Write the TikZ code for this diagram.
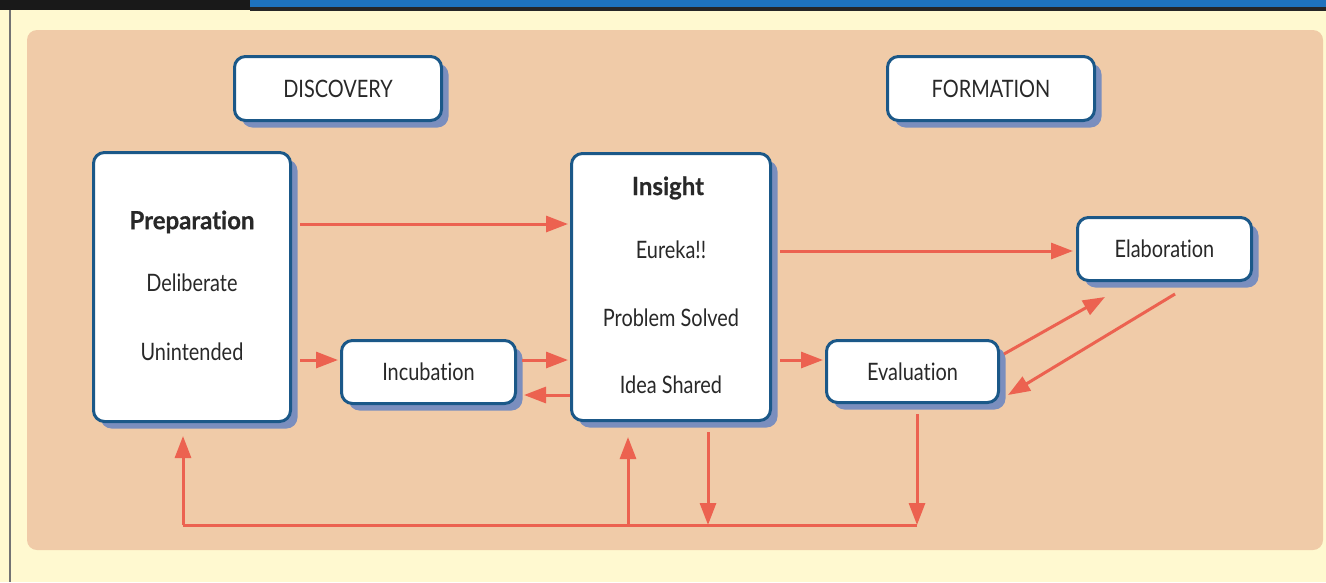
\documentclass[tikz,border=0pt]{standalone}
\usepackage{fontspec}
\setmainfont{Lato}[FakeStretch=0.83, Ligatures={NoCommon}]
\newfontfamily\titlefont{Lato}[FakeStretch=0.96, Ligatures={NoCommon}, BoldFeatures={FakeBold=0.6}]
\usetikzlibrary{arrows.meta,shadows,calc}
\definecolor{cream}{RGB}{255,249,208}
\definecolor{peach}{RGB}{240,203,168}
\definecolor{boxblue}{RGB}{27,88,136}
\definecolor{shadowblue}{RGB}{122,142,190}
\definecolor{arrowred}{RGB}{236,98,80}
\definecolor{barblue}{RGB}{30,115,190}
\definecolor{textgrey}{RGB}{40,40,40}
\begin{document}
\begin{tikzpicture}[x=1pt,y=-1pt,
  box/.style={draw=boxblue, line width=3pt, fill=white, rounded corners=11pt,
    drop shadow={shadow xshift=7pt, shadow yshift=-7pt, fill=shadowblue, opacity=1},
    inner sep=0pt},
  txt/.style={font=\fontsize{24}{28}\selectfont, text=textgrey, inner sep=0pt},
  ttl/.style={font=\fontsize{25}{29}\selectfont\titlefont\bfseries, text=textgrey, inner sep=0pt},
  arr/.style={draw=arrowred, line width=3pt, -{Triangle[length=22pt,width=16pt]}},
  ln/.style={draw=arrowred, line width=3pt}]
\useasboundingbox (0,0) rectangle (1326,582);
% background
\fill[cream] (0,0) rectangle (1326,582);
\fill[black!90] (0,0) rectangle (250,10);
\fill[barblue] (250,0) rectangle (1326,7);
\fill[black!85] (250,7) rectangle (1326,11);
\fill[black!55] (9,10) rectangle (11,582);
\fill[peach, rounded corners=10pt] (27,30) rectangle (1323,550);
% boxes
\node[box, minimum width=207pt, minimum height=64pt, txt] (disc) at (338,88.5) {DISCOVERY};
\node[box, minimum width=207pt, minimum height=64pt, txt] (form) at (991,88.5) {FORMATION};
\node[box, minimum width=197pt, minimum height=269pt] (prep) at (192,287) {};
\node[box, minimum width=174pt, minimum height=63pt, txt] (incub) at (428.5,372) {Incubation};
\node[box, minimum width=199pt, minimum height=267pt] (ins) at (671,287) {};
\node[box, minimum width=172pt, minimum height=62pt, txt] (eval) at (912.5,371.5) {Evaluation};
\node[box, minimum width=174pt, minimum height=63pt, txt] (elab) at (1164.5,249) {Elaboration};
% texts in large boxes
\node[ttl] (prepT) at (192,222) {Preparation};
\node[txt] (prepD) at (192,283) {Deliberate};
\node[txt] (prepU) at (192,352) {Unintended};
\node[ttl] (insT) at (668,188) {Insight};
\node[txt] (insE) at (671,250) {Eureka!!};
\node[txt] (insP) at (671,318) {Problem Solved};
\node[txt] (insI) at (671,385) {Idea Shared};
% arrows
\draw[arr, shorten <=8pt, shorten >=2pt] (prep.east |- 0,224) -- (ins.west |- 0,224);
\draw[arr, shorten <=8pt, shorten >=2pt] (prep.east |- 0,360) -- (incub.west |- 0,360);
\draw[arr, shorten <=5pt, shorten >=2pt] (incub.east |- 0,360) -- (ins.west |- 0,360);
\draw[arr, shorten >=7pt] (ins.west |- 0,395) -- (incub.east |- 0,395);
\draw[arr, shorten <=8pt, shorten >=3pt] (ins.east |- 0,251) -- (elab.west |- 0,251);
\draw[arr, shorten <=8pt, shorten >=2pt] (ins.east |- 0,360) -- (eval.west |- 0,360);
\draw[arr] ($(eval.east)+(4,-17.5)$) -- ($(elab.south west)+(29,15)$);
\draw[arr] ($(elab.south)+(10.5,12)$) -- ($(eval.east)+(8,23.5)$);
% feedback loop
\coordinate (fbL) at (183,525);
\coordinate (fbA) at (628,525);
\coordinate (fbB) at (708,525);
\coordinate (fbR) at (917,525);
\draw[arr, shorten <=10pt] (fbR |- eval.south) -- (fbR);
\draw[arr, shorten <=10pt] (fbB |- ins.south) -- (fbB);
\draw[ln] (fbR) -- (fbL);
\draw[arr, shorten >=13pt] (fbL) -- (fbL |- prep.south);
\draw[arr, shorten >=15pt] (fbA) -- (fbA |- ins.south);
\end{tikzpicture}
\end{document}
